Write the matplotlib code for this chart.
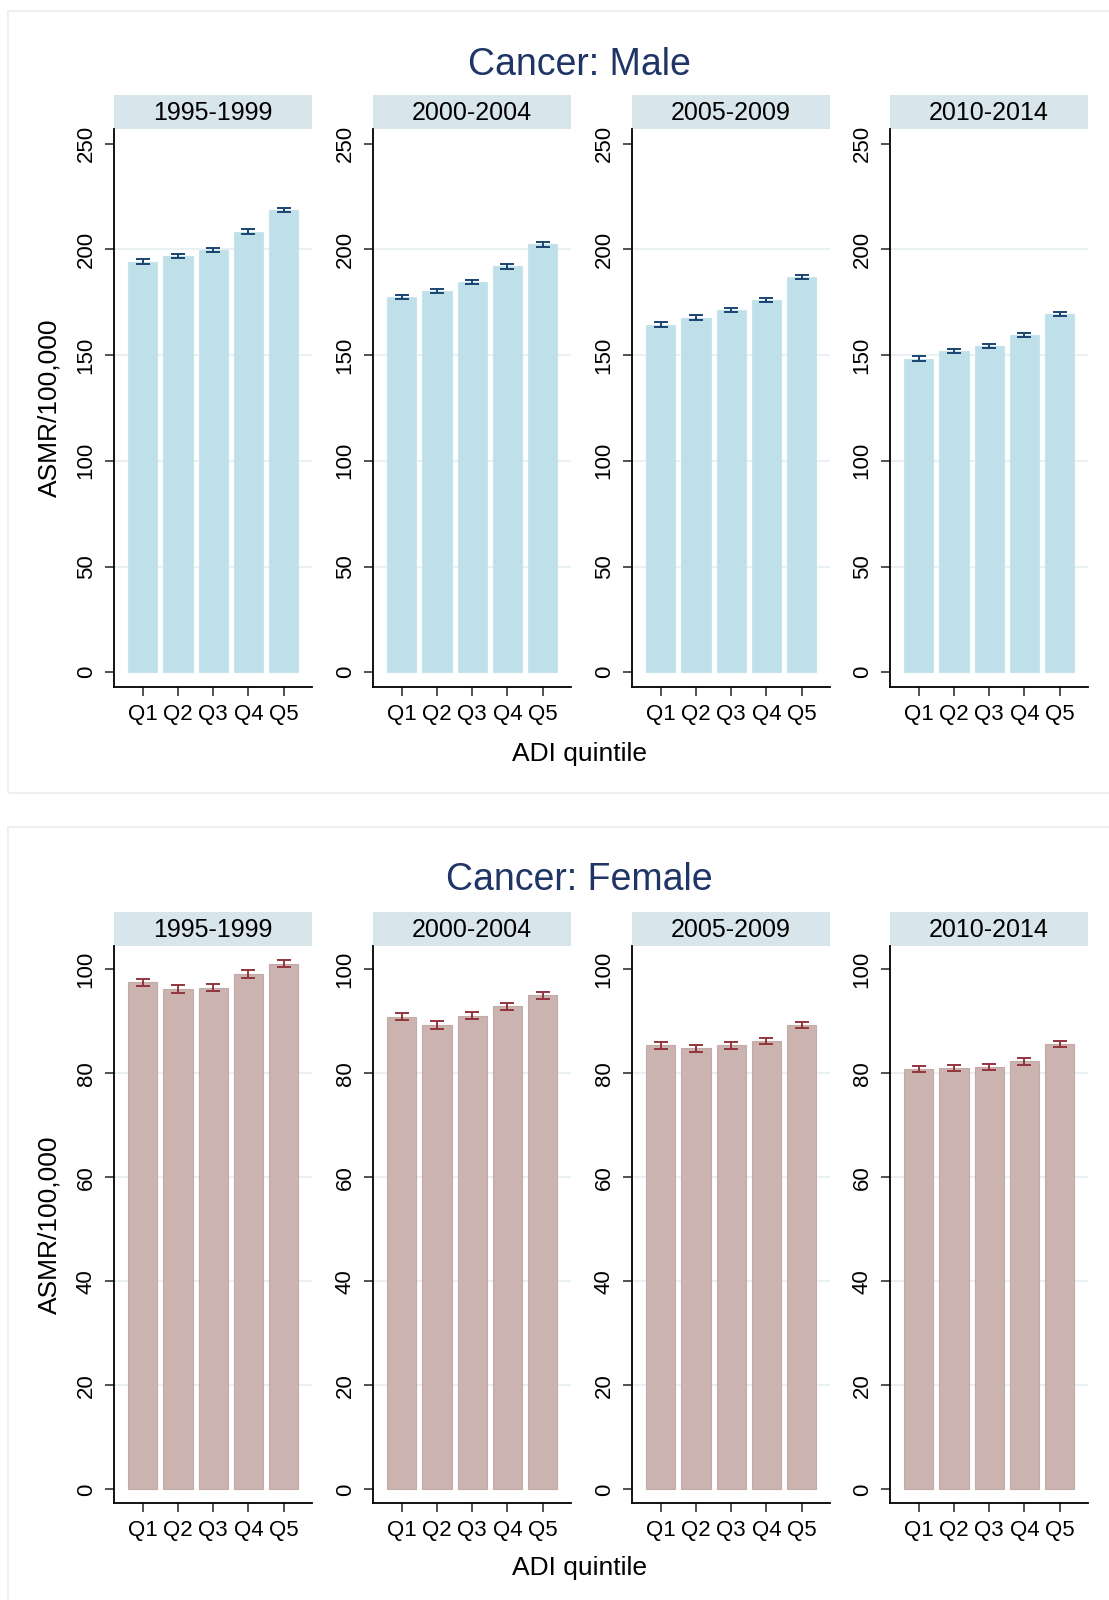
import numpy as np
import matplotlib.pyplot as plt
from matplotlib.patches import Rectangle

plt.rcParams['font.family'] = ['Liberation Sans', 'DejaVu Sans']

periods = ['1995-1999', '2000-2004', '2005-2009', '2010-2014']
quintiles = ['Q1', 'Q2', 'Q3', 'Q4', 'Q5']

# age-standardised mortality rate per 100,000, one row per period
male_asmr = [
    [194.2, 196.9, 199.7, 208.4, 218.5],
    [177.5, 180.3, 184.6, 192.0, 202.4],
    [164.5, 167.8, 171.5, 176.0, 186.8],
    [148.4, 152.0, 154.3, 159.6, 169.3],
]
male_err = [
    [1.2, 1.1, 1.1, 1.1, 1.0],
    [1.1, 1.0, 1.0, 1.0, 1.0],
    [1.0, 1.0, 1.0, 1.0, 1.0],
    [1.0, 1.0, 1.0, 1.0, 1.0],
]
female_asmr = [
    [97.5, 96.25, 96.5, 99.1, 101.1],
    [90.9, 89.3, 91.1, 92.9, 95.0],
    [85.4, 84.8, 85.4, 86.25, 89.3],
    [80.8, 81.05, 81.25, 82.3, 85.7],
]
female_err = [
    [0.75, 0.7, 0.7, 0.7, 0.7],
    [0.7, 0.7, 0.65, 0.65, 0.65],
    [0.65, 0.65, 0.65, 0.65, 0.6],
    [0.6, 0.6, 0.6, 0.6, 0.6],
]

W, H = 1109, 1600
fig = plt.figure(figsize=(W / 100, H / 100), dpi=100)

strip_col = '#d8e5eb'
grid_col = '#e9f1f3'
title_col = '#1f3566'


def px_axes(x0, y_top, y_bot, w=198):
    return fig.add_axes([x0 / W, 1 - y_bot / H, w / W, (y_bot - y_top) / H])


def outer_box(y_top, y_bot):
    # faint frame around each combined graph
    fig.patches.append(Rectangle((8 / W, 1 - y_bot / H), 1.0,
                                 (y_bot - y_top) / H,
                                 transform=fig.transFigure, facecolor='none',
                                 edgecolor='#ececec', lw=1.2, zorder=-5))


def draw_group(vals, errs, yticks, ylim, y_top, y_bot, bar_col, edge_col, err_col,
               title, title_y, xlab_y):
    fig.text(579.5 / W, 1 - title_y / H, title, ha='center', va='center',
             fontsize=27, color=title_col)
    for i, x0 in enumerate([114, 373, 632, 890]):
        ax = px_axes(x0, y_top, y_bot)
        x = np.arange(1, 6)
        ax.bar(x, vals[i], width=0.83, color=bar_col, edgecolor=edge_col,
               lw=0.8, zorder=2)
        ax.errorbar(x, vals[i], yerr=errs[i], fmt='none', ecolor=err_col,
                    elinewidth=1.4, capsize=5, capthick=1.4, zorder=3)
        for t in yticks[1:-1]:
            ax.axhline(t, color=grid_col, lw=1.4, zorder=1)
        ax.set_xlim(0.19, 5.8)
        ax.set_ylim(*ylim)
        ax.set_yticks(yticks)
        ax.set_yticklabels([str(t) for t in yticks], rotation=90, va='center')
        ax.set_xticks(x)
        ax.set_xticklabels(quintiles)
        ax.tick_params(axis='both', labelsize=16, length=6.5, width=1.2,
                       color='#333333')
        ax.tick_params(axis='y', pad=6)
        ax.tick_params(axis='x', pad=6)
        for s in ['top', 'right']:
            ax.spines[s].set_visible(False)
        for s in ['left', 'bottom']:
            ax.spines[s].set_linewidth(1.3)
        ax.patch.set_alpha(0)
        strip_h = 34 / (y_bot - y_top)
        ax.add_patch(Rectangle((0, 1), 1, strip_h, transform=ax.transAxes,
                               facecolor=strip_col, edgecolor='none',
                               clip_on=False))
        ax.text(0.5, 1 + strip_h / 2 - 0.001, periods[i], transform=ax.transAxes,
                ha='center', va='center', fontsize=18)
        if i == 0:
            ax.set_ylabel('ASMR/100,000', fontsize=19, labelpad=10)
    fig.text(579.5 / W, 1 - xlab_y / H, 'ADI quintile', ha='center',
             va='center', fontsize=19)


outer_box(11, 793)
outer_box(827, 1620)

draw_group(male_asmr, male_err, [0, 50, 100, 150, 200, 250], (-7, 257),
           129, 687, '#bfe0e9', '#c6e4ec', '#1a4470', 'Cancer: Male', 65, 754)
draw_group(female_asmr, female_err, [0, 20, 40, 60, 80, 100], (-2.6, 104.5),
           946, 1503, '#cbb3b0', '#c4aaa7', '#93353d', 'Cancer: Female', 880, 1568)

fig.savefig('out.png', dpi=100)
